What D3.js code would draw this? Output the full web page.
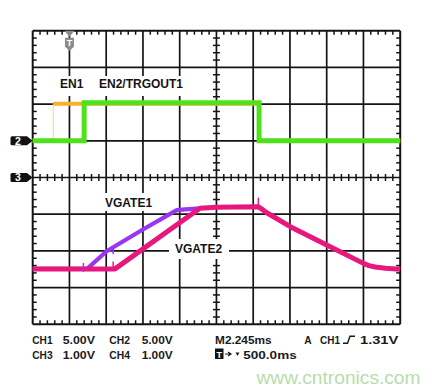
<!DOCTYPE html>
<html><head><meta charset="utf-8">
<script src="https://cdn.jsdelivr.net/npm/d3@7"></script>
<style>html,body{margin:0;padding:0;background:#fff;} svg{display:block;}</style>
</head><body>
<script>
// ---------- data (x in time divisions, y in screen divisions from bottom) ----------
const gridCols = d3.range(0, 11);
const gridRows = d3.range(0, 9);
const en1Time   = [0, 0.56, 0.56, 6.16, 6.16, 10];
const en1Level  = [5, 5, 6.01, 6.01, 5, 5];
const en2Time   = [0, 1.40, 1.40, 6.16, 6.16, 10];
const en2Level  = [5, 5, 6.04, 6.04, 5, 5];
const vgate1Time  = [0, 1.48, 2.01, 3.01, 3.92, 4.15, 4.55];
const vgate1Level = [1.51, 1.51, 1.99, 2.59, 3.11, 3.13, 3.16];
const vgate2Time  = [0, 2.24, 4.55, 5.0, 6.14, 6.25, 6.37, 7.01, 8.0, 9.0, 9.15, 9.32, 9.6, 10];
const vgate2Level = [1.51, 1.51, 3.16, 3.19, 3.20, 3.13, 3.04, 2.66, 2.16, 1.66, 1.60, 1.56, 1.53, 1.50];
const glitchChannel = ["vgate1", "vgate1", "vgate2", "vgate2"];
const glitchTime    = [1.38, 2.19, 2.19, 6.14];
const glitchLow     = [1.43, 1.91, 1.47, 3.15];
const glitchHigh    = [1.67, 2.11, 1.71, 3.45];
const channelMarkers = ["2", "3"];
const channelMarkerLevel = [5, 4];
const traceLabels = ["EN1", "EN2/TRGOUT1", "VGATE1", "VGATE2"];
const readoutRow1 = ["CH1", "5.00V", "CH2", "5.00V", "M2.245ms", "A", "CH1", "1.31V"];
const readoutRow2 = ["CH3", "1.00V", "CH4", "1.00V", "500.0ms"];
const watermark = "www.cntronics.com";

// ---------- layout ----------
const W = 440, H = 391;
const x = d3.scaleLinear().domain([0, 10]).range([32.7, 400.2]);
const y = d3.scaleLinear().domain([0, 8]).range([324.3, 30.7]);
const colors = {en1: "#f6b02a", en2: "#4fe21c", vgate1: "#9a35f2", vgate2: "#e8177d"};
const ink = "#141414";
const font = "'Liberation Sans', Arial, sans-serif";

const svg = d3.select("body").append("svg").attr("width", W).attr("height", H);
svg.append("rect").attr("width", W).attr("height", H).attr("fill", "#fff");

const g = svg.append("g");
// grid
g.selectAll("line.v").data(gridCols).join("line")
  .attr("x1", d => x(d)).attr("x2", d => x(d)).attr("y1", y(8)).attr("y2", y(0))
  .attr("stroke", ink).attr("stroke-width", d => (d === 0 || d === 10) ? 2 : 1.7);
g.selectAll("line.h").data(gridRows).join("line")
  .attr("y1", d => y(d)).attr("y2", d => y(d)).attr("x1", x(0)).attr("x2", x(10))
  .attr("stroke", ink).attr("stroke-width", d => (d === 0 || d === 8) ? 2 : 1.7);

// minor ticks
const minorX = d3.range(1, 50).filter(i => i % 5).map(i => i / 5);
const minorY = d3.range(1, 40).filter(i => i % 5).map(i => i / 5);
function ticksX(yv, a, b) {
  g.append("g").selectAll("line").data(minorX).join("line")
    .attr("x1", d => x(d)).attr("x2", d => x(d))
    .attr("y1", y(yv) + a).attr("y2", y(yv) + b)
    .attr("stroke", ink).attr("stroke-width", 1.5);
}
function ticksY(xv, a, b) {
  g.append("g").selectAll("line").data(minorY).join("line")
    .attr("y1", d => y(d)).attr("y2", d => y(d))
    .attr("x1", x(xv) + a).attr("x2", x(xv) + b)
    .attr("stroke", ink).attr("stroke-width", 1.5);
}
ticksX(8, 0, 4); ticksX(0, -4, 0); ticksX(4, -3.5, 3.5);
ticksY(0, 0, 4); ticksY(10, -4, 0); ticksY(5, -3.5, 3.5);

// label backgrounds + labels
const labelPos = [[60, 87.5], [99, 87.5], [105, 206.5], [175, 253]];
const labelBox = [[57, 76, 28, 20], [96, 76, 92, 20], [101, 193, 55, 18], [169, 239, 60, 20]];
g.selectAll("rect.lb").data(labelBox).join("rect")
  .attr("x", d => d[0]).attr("y", d => d[1]).attr("width", d => d[2]).attr("height", d => d[3])
  .attr("fill", "#fff");

// traces
const line = d3.line().x(d => x(d[0])).y(d => y(d[1]));
function segs(t, v) { return t.map((tt, i) => [tt, v[i]]); }

// EN1 (yellow): horizontal segments bold, fast edges faint
const en1 = segs(en1Time, en1Level);
for (let i = 0; i < en1.length - 1; i++) {
  const a = en1[i], b = en1[i + 1];
  const vertical = a[0] === b[0];
  g.append("path").attr("d", line([a, b])).attr("fill", "none")
    .attr("stroke", vertical ? "#f3dca0" : colors.en1)
    .attr("stroke-width", vertical ? 1.2 : 4).attr("stroke-linecap", "butt");
}
g.append("path").attr("d", line(segs(en2Time, en2Level))).attr("fill", "none")
  .attr("stroke", colors.en2).attr("stroke-width", 5).attr("stroke-linejoin", "miter");
g.append("path").attr("d", line(segs(vgate1Time, vgate1Level))).attr("fill", "none")
  .attr("stroke", colors.vgate1).attr("stroke-width", 4.2).attr("stroke-linejoin", "round");
g.append("path").attr("d", line(segs(vgate2Time, vgate2Level))).attr("fill", "none")
  .attr("stroke", colors.vgate2).attr("stroke-width", 5).attr("stroke-linejoin", "round");
g.selectAll("line.gl").data(glitchTime).join("line")
  .attr("x1", d => x(d)).attr("x2", d => x(d))
  .attr("y1", (d, i) => y(glitchLow[i])).attr("y2", (d, i) => y(glitchHigh[i]))
  .attr("stroke", (d, i) => colors[glitchChannel[i]]).attr("stroke-width", 1.5);

g.selectAll("text.tl").data(traceLabels).join("text")
  .attr("x", (d, i) => labelPos[i][0]).attr("y", (d, i) => labelPos[i][1])
  .attr("font-family", font).attr("font-weight", "bold").attr("font-size", 12)
  .attr("fill", ink).text(d => d);

// channel markers
const cm = g.selectAll("g.cm").data(channelMarkers).join("g")
  .attr("transform", (d, i) => `translate(0,${y(channelMarkerLevel[i])})`);
cm.append("path").attr("d", "M12,-4.5 L27,-4.5 L32.5,0 L27,4.5 L12,4.5 Q10.5,4.5 10.5,3 L10.5,-3 Q10.5,-4.5 12,-4.5 Z")
  .attr("fill", "#111");
cm.append("text").attr("x", 18).attr("y", 3.8).attr("text-anchor", "middle")
  .attr("font-family", font).attr("font-weight", "bold").attr("font-size", 10.5)
  .attr("fill", "#fff").text(d => d);

// trigger position marker
const tx = x(1);
const tm = g.append("g").attr("transform", `translate(${tx},${y(8)})`);
tm.append("path").attr("d", "M-5,0 L5,0 L0,6 Z").attr("fill", "#8c8c8c");
tm.append("path").attr("d", "M-4.5,7 L4.5,7 L4.5,16 L0,20 L-4.5,16 Z").attr("fill", "#8c8c8c");
tm.append("text").attr("x", 0).attr("y", 15.5).attr("text-anchor", "middle")
  .attr("font-family", font).attr("font-weight", "bold").attr("font-size", 9)
  .attr("fill", "#fff").text("T");

// readouts
const row1Pos = [[32.3, 20.3], [62.7, 32.3], [109.3, 20.7], [141.7, 31], [215, 56.7], [304.3, 7.4], [320, 20], [360, 38.3]];
const row2Pos = [[32.3, 20.3], [62.7, 32.3], [109.3, 20.7], [141.7, 31], [243.3, 53.4]];
function readout(texts, pos, base) {
  svg.append("g").selectAll("text").data(texts).join("text")
    .attr("x", (d, i) => pos[i][0]).attr("y", base)
    .attr("textLength", (d, i) => pos[i][1]).attr("lengthAdjust", "spacingAndGlyphs")
    .attr("font-family", font).attr("font-weight", "bold").attr("font-size", 11)
    .attr("fill", "#1a1a1a").text(d => d);
}
readout(readoutRow1, row1Pos, 344);
readout(readoutRow2, row2Pos, 359.3);
// trigger edge glyph
svg.append("path").attr("d", "M343,343.2 L347.5,343.2 L350,336.3 L355,336.3")
  .attr("fill", "none").attr("stroke", "#1a1a1a").attr("stroke-width", 1.4);
// T box, arrow, small down triangle
svg.append("rect").attr("x", 215).attr("y", 348.5).attr("width", 8.5).attr("height", 10.5).attr("fill", "#111");
svg.append("text").attr("x", 219.3).attr("y", 357.5).attr("text-anchor", "middle")
  .attr("font-family", font).attr("font-weight", "bold").attr("font-size", 9).attr("fill", "#fff").text("T");
svg.append("path").attr("d", "M225,354 L230,354 M228,352 L231,354 L228,356").attr("stroke", "#1a1a1a")
  .attr("stroke-width", 1.2).attr("fill", "none");
svg.append("path").attr("d", "M235.5,352.5 L239.5,352.5 L237.5,356 Z").attr("fill", "#1a1a1a");

// watermark
svg.append("text").attr("x", 256.5).attr("y", 383.5)
  .attr("font-family", font).attr("font-size", 19).attr("fill", "#b8dcac")
  .attr("textLength", 164).attr("lengthAdjust", "spacingAndGlyphs").text(watermark);
</script>
</body></html>
